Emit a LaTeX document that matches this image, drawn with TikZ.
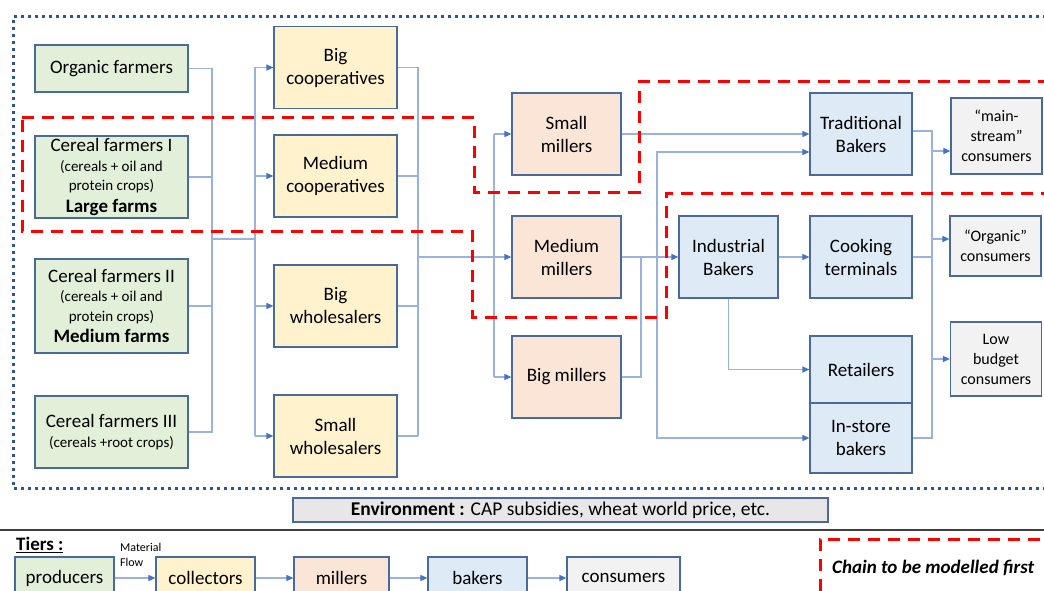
\documentclass[tikz,border=0pt]{standalone}
\usepackage{fontspec}
\setmainfont{Carlito}
\usetikzlibrary{positioning, arrows.meta}

\definecolor{farmc}{HTML}{E2F0D9}
\definecolor{collc}{HTML}{FFF2CC}
\definecolor{millc}{HTML}{FBE5D6}
\definecolor{bakec}{HTML}{DEEBF7}
\definecolor{consc}{HTML}{F2F2F2}
\definecolor{envc}{HTML}{E7E7E7}
\definecolor{bord}{HTML}{4A6A9B}
\definecolor{lnk}{HTML}{9AB3DE}
\definecolor{arr}{HTML}{4472C4}
\definecolor{dotc}{HTML}{2F5597}

\newcommand{\bigtxt}{\fontsize{19}{23}\selectfont}

\tikzset{
  box/.style={draw=bord, line width=1.2pt, align=center, inner sep=1pt,
    font=\fontsize{19}{23}\selectfont},
  farmer/.style={box, fill=farmc, minimum width=153pt},
  cereal/.style={farmer, font=\fontsize{15}{19.5}\selectfont},
  collector/.style={box, fill=collc, minimum width=123pt, minimum height=82pt},
  miller/.style={box, fill=millc, minimum width=109pt, minimum height=82pt},
  baker/.style={box, fill=bakec, minimum width=102pt},
  consumer/.style={box, fill=consc, minimum width=91pt, font=\fontsize{16}{20}\selectfont},
  tier/.style={box, minimum height=42pt},
  link/.style={draw=lnk, line width=1.2pt},
  flow/.style={link, -{Triangle[length=7pt, width=6pt, color=arr]}},
  chain/.style={draw=red, line width=3pt, dash pattern=on 12pt off 8pt},
  border/.style={draw=dotc, line width=3pt, dash pattern=on 3pt off 4pt},
}

\begin{document}
\begin{tikzpicture}[x=1pt, y=-1pt]
    \clip (0,0) rectangle (1044,591);

    \draw[border] (1060,17) -- (13,17) -- (13,488) -- (1060,488);

    \node[farmer, minimum height=47pt] (org) at (111.5,68.5) {Organic farmers};
    \node[cereal, minimum height=82pt] (cf1) at (111.5,177)
        {{\bigtxt Cereal farmers I}\\(cereals + oil and\\protein crops)\\[2pt]{\bigtxt\bfseries Large farms}};
    \node[cereal, minimum height=94pt] (cf2) at (111.5,306)
        {{\bigtxt Cereal farmers II}\\(cereals + oil and\\protein crops)\\[2pt]{\bigtxt\bfseries Medium farms}};
    \node[cereal, minimum height=72pt] (cf3) at (111.5,432)
        {{\bigtxt Cereal farmers III}\\(cereals +root crops)};

    \node[collector] (bcoop) at (335.5,67.5) {Big\\cooperatives};
    \node[collector] (mcoop) at (335.5,176) {Medium\\cooperatives};
    \node[collector] (bwhole) at (335.5,306) {Big\\wholesalers};
    \node[collector] (swhole) at (335.5,436) {Small\\wholesalers};

    \node[miller] (smill) at (566.5,134) {Small\\millers};
    \node[miller] (mmill) at (566.5,257) {Medium\\millers};
    \node[miller] (bmill) at (566.5,377) {Big millers};

    \node[baker, minimum height=82pt] (trad) at (861,134) {Traditional\\Bakers};
    \node[baker, minimum width=99pt, minimum height=82pt] (indus) at (728.5,257) {Industrial\\Bakers};
    \node[baker, minimum height=82pt] (cook) at (861,257) {Cooking\\terminals};
    \node[baker, minimum height=67pt] (retail) at (861,369.5) {Retailers};
    \node[baker, minimum height=70pt] (instore) at (861,438) {In-store\\bakers};

    \node[consumer, minimum height=76pt] (mainc) at (996.5,136) {“main-\\stream”\\consumers};
    \node[consumer, minimum height=60pt] (orgc) at (995.5,246) {“Organic”\\consumers};
    \node[consumer, minimum height=74pt] (lowc) at (996,359) {Low\\budget\\consumers};

    \coordinate (fbus) at (212,239);
    \coordinate (cbus) at (255,239);
    \coordinate (kbus) at (418,257);
    \coordinate (mbus) at (494,257);
    \coordinate (jbus) at (641,257);
    \coordinate (tbus) at (657,257);
    \coordinate (obus) at (932,257);

    \draw[link] (org.east) -- (org.east -| fbus) -- (cf3.east -| fbus) -- (cf3.east);
    \draw[link] (cf1.east) -- (cf1.east -| fbus);
    \draw[link] (cf2.east) -- (cf2.east -| fbus);
    \draw[link] (fbus) -- (cbus);
    \draw[link] (bcoop.west -| cbus) -- (swhole.west -| cbus);
    \foreach \n in {bcoop, mcoop, bwhole, swhole}
        \draw[flow] (\n.west -| cbus) -- (\n.west);

    \foreach \n in {bcoop, mcoop, bwhole, swhole}
        \draw[link] (\n.east) -- (\n.east -| kbus);
    \draw[link] (bcoop.east -| kbus) -- (swhole.east -| kbus);
    \draw[flow] (kbus) -- (mmill.west);
    \draw[link] (smill.west -| mbus) -- (bmill.west -| mbus);
    \draw[flow] (smill.west -| mbus) -- (smill.west);
    \draw[flow] (bmill.west -| mbus) -- (bmill.west);

    \draw[flow] (smill.east) -- (trad.west);
    \draw[flow] (mmill.east) -- (indus.west);
    \draw[link] (bmill.east) -| (jbus);
    \draw[flow] (tbus) |- ([yshift=-18pt]trad.west);
    \draw[flow] (tbus) |- (instore.west);
    \draw[flow] (indus.east) -- (cook.west);
    \draw[flow] (indus.south) |- (retail.west);

    \draw[link] ([yshift=3pt]trad.east) -| (obus |- instore.east) -- (instore.east);
    \draw[link] (cook.east) -- (cook.east -| obus);
    \draw[flow] ([yshift=-15pt]mainc.west -| obus) -- ([yshift=-15pt]mainc.west);
    \draw[flow] ([yshift=7pt]orgc.west -| obus) -- ([yshift=7pt]orgc.west);
    \draw[flow] (lowc.west -| obus) -- (lowc.west);

    \draw[chain] (22,118) -- (474,118) -- (474,192) -- (639,192) -- (639,82) -- (1060,82)
        -- (1060,193) -- (666,193) -- (666,317) -- (472,317) -- (472,231) -- (22,231) -- cycle;

    \node[box, fill=envc, minimum width=535pt, minimum height=24pt,
        font=\fontsize{19.5}{22}\selectfont] (env) at (560.5,510)
        {\textbf{Environment :} CAP subsidies, wheat world price, etc.};
    \draw[line width=1.5pt, draw=black!75] (0,530) -- (1044,530);

    \node[anchor=west, inner sep=0pt, font=\bigtxt\bfseries] (tiers) at (16,545) {\underline{Tiers :}};
    \node[anchor=west, align=left, inner sep=0pt, font=\fontsize{12}{15}\selectfont] (mflow) at (120,555) {Material\\Flow};
    \node[tier, fill=farmc, minimum width=99pt] (tprod) at (64.5,578) {producers};
    \node[tier, fill=collc, minimum width=99pt] (tcoll) at (205.5,578) {collectors};
    \node[tier, fill=millc, minimum width=95pt] (tmill) at (341.5,578) {millers};
    \node[tier, fill=bakec, minimum width=99pt] (tbake) at (477.5,578) {bakers};
    \node[tier, fill=consc, minimum width=113pt] (tcons) at (623.5,578) {consumers};
    \draw[flow] (tprod) -- (tcoll);
    \draw[flow] (tcoll) -- (tmill);
    \draw[flow] (tmill) -- (tbake);
    \draw[flow] (tbake) -- (tcons);

    \draw[chain] (1060,539) -- (820,539) -- (820,600);
    \node[anchor=west, inner sep=0pt, font=\bigtxt\bfseries\itshape] (legend) at (832,568) {Chain to be modelled first};
\end{tikzpicture}
\end{document}
